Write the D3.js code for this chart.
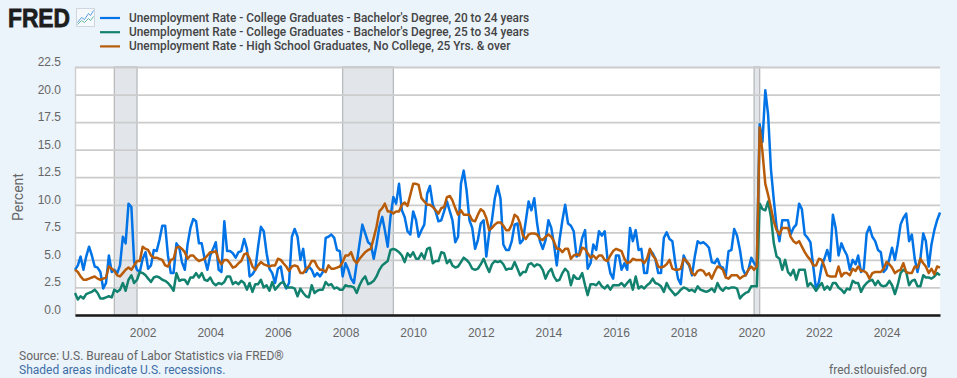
<!DOCTYPE html>
<html>
<head>
<meta charset="utf-8">
<script src="https://cdn.jsdelivr.net/npm/d3@7"></script>
<style>
  html, body { margin: 0; padding: 0; background: #ebf3fb; overflow: hidden; }
  svg { display: block; font-family: Roboto, Arial, sans-serif; }
  .tick text { fill: #666; font-size: 12px; }
  .legend-label { fill: #444; font-size: 11.85px; font-weight: 500; }
  .footer { font-size: 12px; fill: #666; }
</style>
</head>
<body>
<svg width="957" height="378"></svg>
<script>
const legendLabels = [
  "Unemployment Rate - College Graduates - Bachelor's Degree, 20 to 24 years",
  "Unemployment Rate - College Graduates - Bachelor's Degree, 25 to 34 years",
  'Unemployment Rate - High School Graduates, No College, 25 Yrs. & over'
];
const colors = ['#0073e6', '#12826f', '#b85c0a'];
const yTicks = [0, 2.5, 5, 7.5, 10, 12.5, 15, 17.5, 20, 22.5];
const xTickYears = [2002, 2004, 2006, 2008, 2010, 2012, 2014, 2016, 2018, 2020, 2022, 2024];
const recessions = [['2001-03-01', '2001-11-01'], ['2007-12-01', '2009-06-01'], ['2020-02-01', '2020-04-01']];

// monthly, one row per year from 2000 to Aug 2025
const bachelors2024 = [
  4.1,4.5,5.3,4.1,5.3,6.2,5.4,4.4,4.3,3.9,2.4,2.9,
  5.4,3.9,4.1,3.8,4.5,7.1,6.5,10.1,9.8,4.8,4.1,3.9,
  5.1,5.7,4.2,4.5,5.9,5.8,6.8,8.1,8.1,5.4,3.8,3.8,
  6.5,6.1,4.8,4.1,6.4,7.9,8.7,8.5,6.5,6.5,5.1,4.1,
  5.4,6.0,6.6,4.1,3.9,8.5,5.8,5.8,5.6,5.2,5.7,5.8,
  6.9,6.0,3.5,3.7,4.1,6.2,8.0,7.6,5.6,4.2,3.8,2.9,
  4.2,4.4,3.0,2.4,2.9,7.1,7.8,7.1,5.0,6.0,3.9,4.4,
  4.1,3.5,3.8,3.5,3.9,7.0,7.1,7.3,7.0,5.9,5.8,3.5,
  4.7,4.1,3.3,2.9,4.7,6.5,8.2,7.4,6.6,6.4,5.1,6.4,
  8.0,8.9,7.7,6.2,8.9,10.7,10.1,11.9,9.5,8.9,7.6,7.3,
  9.4,8.6,7.1,7.7,8.2,11.0,11.7,10.0,9.4,8.5,8.6,9.4,
  10.3,9.4,8.6,6.6,7.1,11.9,13.1,11.3,8.6,7.9,6.0,6.8,
  8.3,8.6,5.3,7.4,8.6,10.6,11.7,10.6,6.4,5.9,5.9,6.7,
  8.2,8.3,6.5,6.8,8.5,10.3,9.5,10.6,8.3,6.7,6.0,6.8,
  8.6,7.9,6.5,4.5,6.8,8.6,10.0,8.3,8.1,7.6,5.3,5.6,
  7.0,7.7,4.2,4.7,6.4,5.9,7.6,7.2,7.6,5.1,3.8,3.3,
  5.4,5.4,4.1,4.7,4.1,7.9,6.7,7.7,5.9,6.0,3.8,3.8,
  5.9,5.6,5.1,3.8,3.8,7.0,7.5,6.9,6.7,4.8,3.3,2.8,
  5.4,4.8,4.5,3.6,5.3,6.7,6.5,6.6,6.4,6.1,4.8,4.7,
  5.1,4.4,4.3,3.6,5.8,5.9,7.8,7.2,5.9,4.2,3.6,4.1,
  5.2,4.7,4.4,17.3,15.7,20.4,18.2,13.2,10.4,8.0,6.7,8.6,
  8.6,8.6,7.3,7.9,8.2,10.1,9.6,7.3,7.0,6.6,4.4,2.3,
  3.0,4.5,5.1,5.9,4.9,9.1,7.9,5.4,6.5,5.9,5.4,4.1,
  5.0,4.6,5.4,3.9,4.2,7.4,8.0,7.1,6.7,5.9,5.7,3.9,
  4.2,5.1,6.1,5.0,6.4,8.2,8.8,9.2,6.7,7.3,5.1,3.9,
  5.1,7.4,6.7,4.4,6.4,7.7,8.6,9.3
];
const bachelors2534 = [
  2.0,1.4,1.7,1.5,1.9,2.0,2.1,2.3,2.0,1.5,1.5,1.6,
  1.7,1.6,2.3,2.1,2.3,2.9,2.2,3.2,3.6,2.9,3.2,3.9,
  3.8,3.6,3.3,3.0,3.4,3.5,3.4,3.2,3.1,2.9,2.6,2.2,
  3.8,3.1,3.2,3.2,2.8,3.4,3.4,3.8,3.4,3.8,3.2,3.1,
  3.4,2.9,2.7,2.9,2.8,3.0,3.5,3.5,2.8,3.0,2.8,3.1,
  2.9,2.3,2.9,2.1,2.8,2.8,3.2,2.5,2.7,2.2,3.0,2.3,
  2.6,2.9,3.0,2.5,2.5,2.5,2.4,1.7,2.4,2.0,1.7,1.6,
  2.7,2.0,2.2,2.3,2.3,3.0,2.7,2.8,2.4,2.5,2.3,2.3,
  2.7,2.6,2.6,2.5,2.0,2.7,3.2,3.5,2.8,2.9,3.1,3.5,
  4.1,4.5,4.7,4.9,5.9,6.0,5.9,5.7,5.4,4.8,5.6,5.3,
  5.7,5.1,5.1,5.6,5.1,6.0,6.1,4.7,4.9,4.9,5.7,5.6,
  4.7,5.0,4.5,4.3,4.4,4.8,5.2,5.0,4.7,4.2,4.1,4.2,
  4.6,5.1,4.5,3.9,4.6,4.9,4.8,4.9,4.6,4.1,4.2,4.2,
  4.8,4.2,3.6,3.9,3.9,4.6,4.7,4.4,4.6,4.5,4.1,3.3,
  3.9,4.2,3.5,3.1,3.2,3.8,4.2,3.9,2.7,3.6,3.3,3.3,
  3.8,2.7,1.8,2.8,2.8,2.7,3.0,2.6,2.4,2.7,2.3,2.7,
  2.7,2.7,2.9,2.6,2.9,3.2,2.3,3.5,2.4,2.6,2.4,2.7,
  2.9,3.3,2.9,2.8,2.6,2.1,2.9,2.4,2.1,1.8,2.0,2.3,
  2.5,2.4,2.2,2.3,2.1,2.6,2.3,2.2,2.1,2.2,2.4,2.1,
  2.9,2.4,2.2,2.5,2.4,2.5,2.5,2.4,1.5,1.8,2.0,2.1,
  2.6,2.6,2.6,10.1,9.6,9.5,10.3,8.9,6.5,5.3,5.1,4.1,
  5.0,3.9,3.6,4.1,3.2,4.1,4.1,4.1,2.6,2.9,2.6,2.2,
  2.6,2.9,2.3,2.6,2.3,2.9,2.9,2.5,2.3,2.0,2.4,2.3,
  3.1,2.9,2.9,2.1,2.6,2.9,3.1,3.2,2.7,3.1,2.7,2.6,
  2.7,3.1,2.7,1.9,2.7,3.8,4.1,3.9,2.7,3.1,3.2,2.6,
  2.6,3.6,3.4,3.4,3.3,3.5,3.8,3.6
];
const highSchool = [
  4.1,3.9,3.5,3.2,3.2,3.3,3.4,3.5,3.3,3.2,3.3,3.4,
  4.4,4.2,4.0,3.6,3.5,3.8,4.1,4.3,4.1,4.5,4.9,4.9,
  6.2,6.0,5.9,5.4,5.2,5.2,5.1,5.0,4.5,4.4,5.0,5.1,
  6.1,6.2,6.0,5.7,5.1,5.4,5.4,5.1,4.9,5.0,5.1,5.4,
  5.7,5.7,5.8,5.0,4.6,5.0,5.0,4.7,4.3,4.4,4.7,4.9,
  5.5,5.6,5.1,4.4,4.1,4.5,4.8,4.6,4.5,4.4,4.5,4.5,
  5.1,5.0,4.7,4.4,4.0,4.4,4.5,4.4,3.8,3.8,4.2,4.4,
  4.9,4.9,4.4,4.1,4.1,3.9,4.5,4.2,4.2,4.3,4.4,4.8,
  5.4,5.4,5.7,5.0,4.7,5.1,5.4,5.7,5.9,6.0,7.0,8.0,
  9.4,9.7,10.1,9.4,9.4,9.2,9.4,9.4,10.0,10.2,9.9,10.9,
  11.9,11.9,11.8,10.6,10.3,10.0,10.0,9.8,9.5,9.2,9.7,9.8,
  10.7,10.8,10.4,9.7,9.1,9.5,9.1,9.1,9.1,8.6,8.5,9.1,
  9.6,9.4,8.8,7.7,7.9,8.2,8.4,8.4,8.1,7.7,7.7,8.2,
  9.1,8.9,8.3,7.2,6.9,7.3,7.4,7.4,7.3,6.9,6.8,7.1,
  7.3,7.1,6.7,6.0,6.0,5.7,6.0,6.0,5.1,5.4,5.5,5.4,
  6.1,6.0,5.6,5.2,5.4,5.1,5.4,5.4,5.0,4.9,5.4,5.8,
  6.0,5.9,5.8,5.1,4.7,4.8,5.1,5.0,5.0,5.0,4.7,5.1,
  6.0,5.4,5.1,4.4,4.3,4.4,4.6,5.0,4.2,4.1,4.1,4.2,
  5.1,4.9,4.6,3.8,3.6,4.0,4.1,4.0,3.6,3.8,3.3,3.9,
  4.4,4.3,4.1,3.4,3.3,3.6,3.6,3.6,3.3,3.5,3.6,4.1,
  4.4,4.1,4.4,17.0,14.8,11.9,10.9,9.7,8.5,7.7,7.3,7.9,
  7.9,7.9,7.1,6.7,6.5,6.7,6.2,5.7,5.3,5.0,4.5,4.5,
  5.1,5.0,4.4,3.6,3.5,3.5,3.5,4.4,3.5,3.8,3.8,3.6,
  4.2,4.0,4.4,4.0,4.0,3.8,3.3,3.8,3.9,3.9,3.9,4.2,
  4.8,4.6,4.3,3.8,4.0,4.1,4.7,3.9,3.8,3.8,4.4,4.3,
  5.1,4.7,4.4,3.8,4.2,3.7,4.4,4.3
];

const svg = d3.select('svg');
const margin = { top: 67, left: 75, right: 17, bottom: 63 };
const width = +svg.attr('width');
const height = +svg.attr('height');
const innerWidth = width - margin.left - margin.right;
const innerHeight = height - margin.top - margin.bottom;

const parseDate = d3.utcParse('%Y-%m-%d');
const months = d3.utcMonth.range(Date.UTC(2000, 0, 1), Date.UTC(2025, 8, 1));

const xScale = d3.scaleUtc()
  .domain([months[0], months[months.length - 1]])
  .range([0, innerWidth]);
const yScale = d3.scaleLinear()
  .domain([0, 22.5])
  .range([innerHeight, 0]);

const root = svg.append('g')
  .attr('transform', `translate(${margin.left}, ${margin.top})`);

root.append('rect')
  .attr('width', innerWidth)
  .attr('height', innerHeight)
  .attr('fill', '#fff');

// recession bands
root.selectAll('.recession')
  .data(recessions)
  .enter()
  .append('rect')
    .attr('class', 'recession')
    .attr('x', d => xScale(parseDate(d[0])))
    .attr('width', d => xScale(parseDate(d[1])) - xScale(parseDate(d[0])))
    .attr('height', innerHeight)
    .attr('fill', '#e2e6ea')
    .attr('stroke', '#b8babc')
    .attr('stroke-width', 1.3);

// y axis: labels sit above their gridlines
const yAxis = d3.axisLeft(yScale)
  .tickValues(yTicks)
  .tickFormat(d3.format('.1f'))
  .tickSize(-innerWidth)
  .tickSizeOuter(0)
  .tickPadding(14);
const yAxisGroup = root.append('g').call(yAxis);
yAxisGroup.select('.domain').attr('stroke', '#d0d0d0').attr('stroke-width', 1.5);
yAxisGroup.selectAll('.tick line').attr('stroke', '#cccccc').attr('stroke-width', 1.8);
yAxisGroup.selectAll('.tick text').attr('dy', '-0.13em');

root.append('text')
  .attr('transform', `translate(-52, ${innerHeight / 2 + 6}) rotate(-90)`)
  .attr('text-anchor', 'middle')
  .attr('fill', '#666')
  .style('font-size', '14px')
  .text('Percent');

// x axis
const xAxis = d3.axisBottom(xScale)
  .tickValues(xTickYears.map(y => new Date(Date.UTC(y, 0, 1))))
  .tickFormat(d3.utcFormat('%Y'))
  .tickSize(8)
  .tickSizeOuter(0)
  .tickPadding(5);
const xAxisGroup = root.append('g')
  .attr('transform', `translate(0, ${innerHeight})`)
  .call(xAxis);
xAxisGroup.selectAll('.tick line').attr('stroke', '#dfe6ee');
xAxisGroup.select('.domain').attr('stroke', '#1a1a1a').attr('stroke-width', 2.5).raise();

// series
const line = d3.line()
  .x((d, i) => xScale(months[i]))
  .y(d => yScale(d));

root.selectAll('.series')
  .data([bachelors2024, bachelors2534, highSchool])
  .enter()
  .append('path')
    .attr('class', 'series')
    .attr('d', line)
    .attr('fill', 'none')
    .attr('stroke', (d, i) => colors[i])
    .attr('stroke-width', 2.5)
    .attr('stroke-linejoin', 'round');

// legend
const legend = svg.append('g').selectAll('g')
  .data(legendLabels)
  .enter()
  .append('g')
    .attr('transform', (d, i) => `translate(100, ${18 + i * 14.2})`);
legend.append('line')
  .attr('x2', 20)
  .attr('stroke', (d, i) => colors[i])
  .attr('stroke-width', 2.2);
legend.append('text')
  .attr('class', 'legend-label')
  .attr('x', 29)
  .attr('y', 4)
  .text(d => d);

// FRED logo
svg.append('text')
  .attr('x', 8)
  .attr('y', 27)
  .attr('fill', '#1d1d1d')
  .attr('textLength', 62)
  .attr('lengthAdjust', 'spacingAndGlyphs')
  .style('font-family', '"Liberation Sans", Arial, sans-serif')
  .style('font-size', '25px')
  .style('font-weight', 700)
  .style('stroke', '#1d1d1d')
  .style('stroke-width', '0.8px')
  .text('FRED');
const logo = svg.append('g').attr('transform', 'translate(76.5, 8.5)');
logo.append('rect')
  .attr('width', 18).attr('height', 18)
  .attr('fill', '#f6f9fc').attr('stroke', '#cfd6dd');
logo.append('path')
  .attr('d', 'M1,14 L5,9 L8,11 L12,5 L14,7 L17,2')
  .attr('fill', 'none').attr('stroke', '#5a9fe0').attr('stroke-width', 1);
logo.append('path')
  .attr('d', 'M1,16 L5,12 L8,14 L12,10 L14,12 L17,8')
  .attr('fill', 'none').attr('stroke', '#67b7a5').attr('stroke-width', 1);

// footer
svg.append('text')
  .attr('class', 'footer')
  .attr('x', 19)
  .attr('y', 360)
  .text('Source: U.S. Bureau of Labor Statistics via FRED®');
svg.append('text')
  .attr('class', 'footer')
  .attr('x', 19)
  .attr('y', 374)
  .style('fill', '#3e6ea6')
  .text('Shaded areas indicate U.S. recessions.');
svg.append('text')
  .attr('class', 'footer')
  .attr('x', 927)
  .attr('y', 374)
  .attr('text-anchor', 'end')
  .text('fred.stlouisfed.org');
</script>
</body>
</html>
